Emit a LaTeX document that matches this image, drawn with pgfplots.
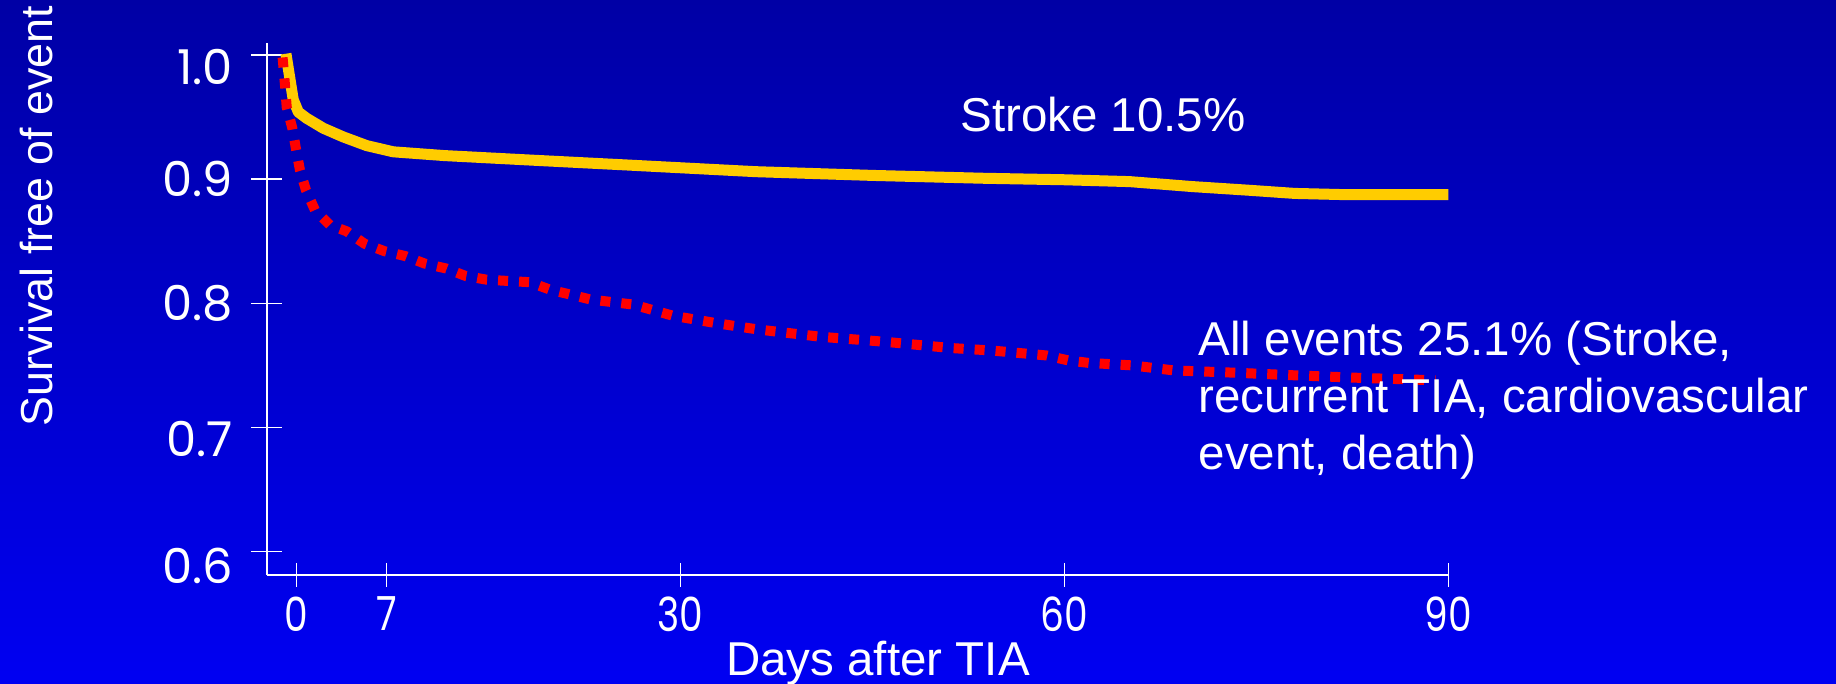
\documentclass[border=0pt]{standalone}
\usepackage{fontspec}
\setmainfont{Liberation Sans}
\newfontfamily\ytickfont{Poppins}
\newfontfamily\xtickfont[FakeStretch=0.8]{Poppins}
\usepackage{pgfplots}
\usepackage{pgfplotstable}
\pgfplotsset{compat=1.18}

\definecolor{bgtop}{RGB}{0,0,165}
\definecolor{bgbot}{RGB}{0,0,242}
\definecolor{strokeyellow}{RGB}{255,204,0}
\definecolor{eventred}{RGB}{255,0,0}

% Kaplan-Meier style survival, stroke only
\pgfplotstableread{
day   surv
-0.84 1.001
-0.47 0.977
-0.27 0.964
0.13  0.954
0.78  0.949
2.08  0.941
3.64  0.934
5.47  0.927
7.55  0.922
11.5  0.919
18.0  0.9155
25.8  0.9114
35.9  0.906
45.0  0.903
53.7  0.9007
60.0  0.8995
65.1  0.898
70.0  0.894
74.5  0.891
78.0  0.8885
82.0  0.8875
90.0  0.8875
}\strokedata

% survival free of any event (stroke, recurrent TIA, cardiovascular event, death)
\pgfplotstableread{
day   surv
-1.10 0.998
-0.90 0.974
-0.78 0.958
-0.34 0.941
-0.05 0.924
0.26  0.907
0.73  0.891
1.43  0.875
2.60  0.863
3.90  0.858
5.30  0.848
6.85  0.842
8.50  0.838
10.0  0.832
11.7  0.828
13.2  0.822
14.85 0.819
18.2  0.817
19.8  0.811
23.0  0.803
26.3  0.799
29.4  0.790
32.8  0.784
36.0  0.779
41.0  0.773
46.0  0.769
51.1  0.764
54.3  0.762
58.6  0.758
60.3  0.754
61.9  0.752
65.3  0.750
68.5  0.746
73.6  0.744
78.0  0.742
83.0  0.740
89.0  0.738
}\alldata

\newcommand{\lowlab}[2]{\raisebox{-#1}[\height][\depth]{#2}}

\begin{document}
\begin{tikzpicture}
\clip (0,0) rectangle (918bp,342bp);
\shade[top color=bgtop, bottom color=bgbot] (0,0) rectangle (918bp,342bp);
\begin{axis}[
  at={(133.35bp,54.5bp)}, anchor=south west,
  scale only axis, width=590.8bp, height=265.85bp,
  xmin=-2.344, xmax=90, ymin=0.5812, ymax=1.0094,
  axis x line*=bottom, axis y line*=left,
  axis line style={white, line width=1bp, -},
  tick align=center,
  major tick length=15.5bp,
  xtick={0,7,30,60,90}, xticklabels={0,7,30,60,90},
  ytick={0.6,0.7,0.8,0.9,1.0},
  yticklabels={\lowlab{7bp}{0.6},\lowlab{6bp}{0.7},0.8,0.9,\lowlab{6bp}{1.0}},
  xtick style={white, line width=0.7bp, /pgfplots/major tick length=11.5bp},
  ytick style={white, line width=0.7bp},
  xticklabel style={font=\xtickfont\fontsize{23.5bp}{23.5bp}\selectfont, text=white,
    anchor=north, inner sep=0pt, yshift=-3bp},
  yticklabel style={font=\ytickfont\fontsize{24bp}{24bp}\selectfont, text=white,
    anchor=east, inner sep=0pt, xshift=-8.85bp},
  xlabel={Days after TIA},
  ylabel={Survival free of event},
  label style={text=white, inner sep=0pt},
  xlabel style={font=\fontsize{23.75bp}{28bp}\selectfont,
    at={(axis description cs:0.5173,-0.1881)}, anchor=base},
  ylabel style={font=\fontsize{22.4bp}{26bp}\selectfont,
    at={(axis description cs:-0.1809,0.2784)}, anchor=base west},
  clip=false,
]
\addplot[strokeyellow, line width=5.5bp, line join=round] table[x=day, y=surv] {\strokedata};
\addplot[eventred, line width=5bp, dash pattern=on 5bp off 5.5bp] table[x=day, y=surv] {\alldata};
\end{axis}
\begin{scope}[every node/.style={text=white, inner sep=0pt, anchor=base west,
    font=\fontsize{23.75bp}{28bp}\selectfont}]
\node at (480bp,276bp) {Stroke 10.5\%};
\node at (599.15bp,164bp) {All events 25.1\% (Stroke,};
\node at (599.15bp,135.5bp) {recurrent TIA, cardiovascular};
\node at (599.15bp,107bp) {event, death)};
\end{scope}
\end{tikzpicture}
\end{document}
